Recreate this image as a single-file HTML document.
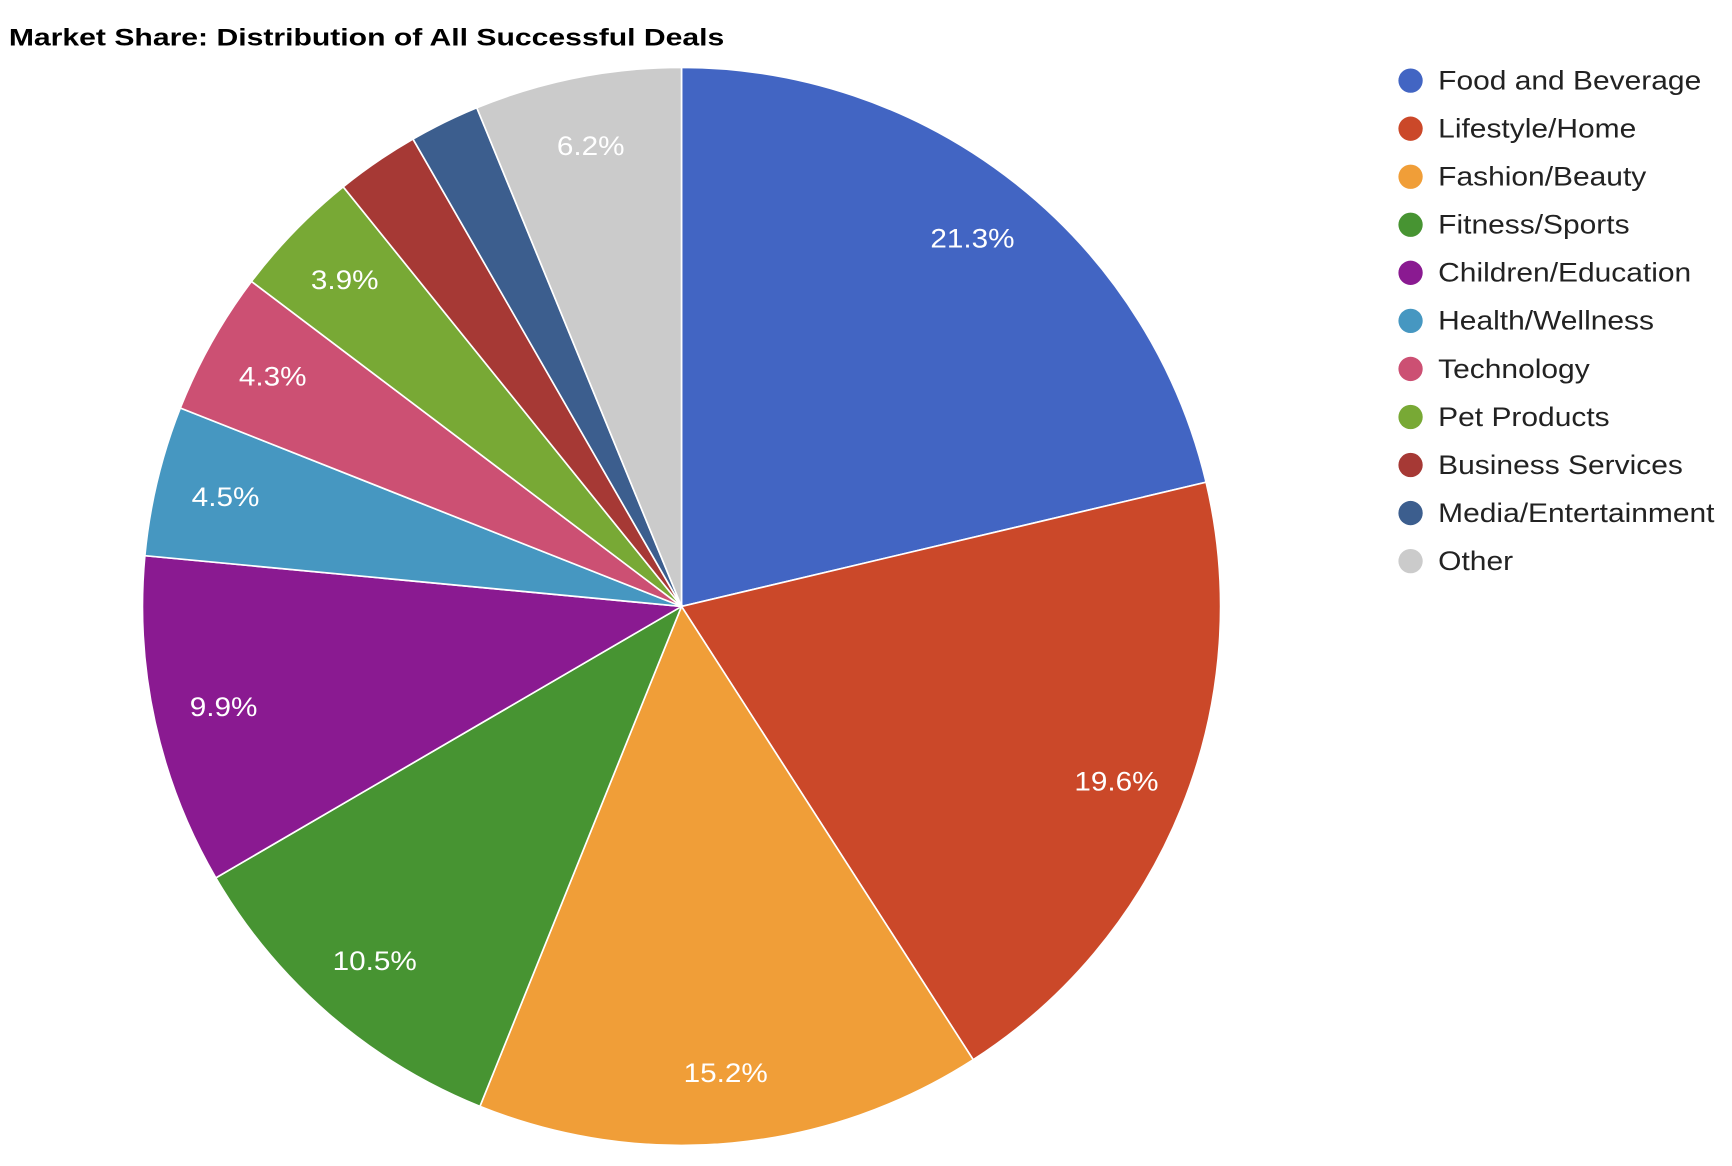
<!DOCTYPE html>
<html><head><meta charset="utf-8"><style>
html,body{margin:0;padding:0;background:#fff;}
svg{display:block;}
text{font-family:"Liberation Sans",Arial,sans-serif;}
</style></head><body>
<svg id="s" width="1732" height="1166" viewBox="0 0 1568 1055.6" preserveAspectRatio="none" xmlns="http://www.w3.org/2000/svg">
<text id="title" x="8" y="41" font-size="22" font-weight="bold" fill="#000">Market Share: Distribution of All Successful Deals</text>
<g id="pie"></g>
<g id="leg"></g>
</svg>
<script>
var data=[["Food and Beverage",21.3,"#4265c3"],["Lifestyle/Home",19.6,"#cb4829"],["Fashion/Beauty",15.2,"#f09e38"],["Fitness/Sports",10.5,"#479432"],["Children/Education",9.9,"#8a1a91"],["Health/Wellness",4.5,"#4697c1"],["Technology",4.3,"#cc5073"],["Pet Products",3.9,"#78a935"],["Business Services",2.5,"#a63935"],["Media/Entertainment",2.1,"#3c5e8e"],["Other",6.2,"#cbcbcb"]];
var NS="http://www.w3.org/2000/svg",cx=617,cy=549,r=488,tot=0;
data.forEach(function(d){tot+=d[1];});
var pie=document.getElementById("pie"),leg=document.getElementById("leg"),a=0;
function pt(ang,rr){return [cx+rr*Math.sin(ang),cy-rr*Math.cos(ang)];}
function stretch(t,f){try{var w=t.getComputedTextLength();t.setAttribute("textLength",w*f);t.setAttribute("lengthAdjust","spacingAndGlyphs");}catch(e){}}
data.forEach(function(d,i){
 var a1=a+d[1]/tot*2*Math.PI;var p0=pt(a,r),p1=pt(a1,r);
 var p=document.createElementNS(NS,"path");
 p.setAttribute("d","M"+cx+","+cy+"L"+p0[0]+","+p0[1]+"A"+r+","+r+" 0 "+((a1-a)>Math.PI?1:0)+" 1 "+p1[0]+","+p1[1]+"Z");
 p.setAttribute("fill",d[2]);p.setAttribute("stroke","#fff");p.setAttribute("stroke-width","1.5");
 pie.appendChild(p);
 if(d[1]>=3){var m=pt((a+a1)/2,r*0.87);var t=document.createElementNS(NS,"text");
  t.setAttribute("x",m[0]);t.setAttribute("y",m[1]+8);t.setAttribute("text-anchor","middle");
  t.setAttribute("font-size","24");t.setAttribute("fill","#fff");t.textContent=d[1].toFixed(1)+"%";pie.appendChild(t);stretch(t,1.12);}
 a=a1;
 var y=73+i*43.5;var c=document.createElementNS(NS,"circle");
 c.setAttribute("cx",1277);c.setAttribute("cy",y);c.setAttribute("r",11);c.setAttribute("fill",d[2]);leg.appendChild(c);
 var lt=document.createElementNS(NS,"text");lt.setAttribute("x",1302);lt.setAttribute("y",y+8);
 lt.setAttribute("font-size","24");lt.setAttribute("fill","#222");lt.textContent=d[0];leg.appendChild(lt);stretch(lt,1.13);
});
stretch(document.getElementById("title"),1.24);
</script>
</body></html>
